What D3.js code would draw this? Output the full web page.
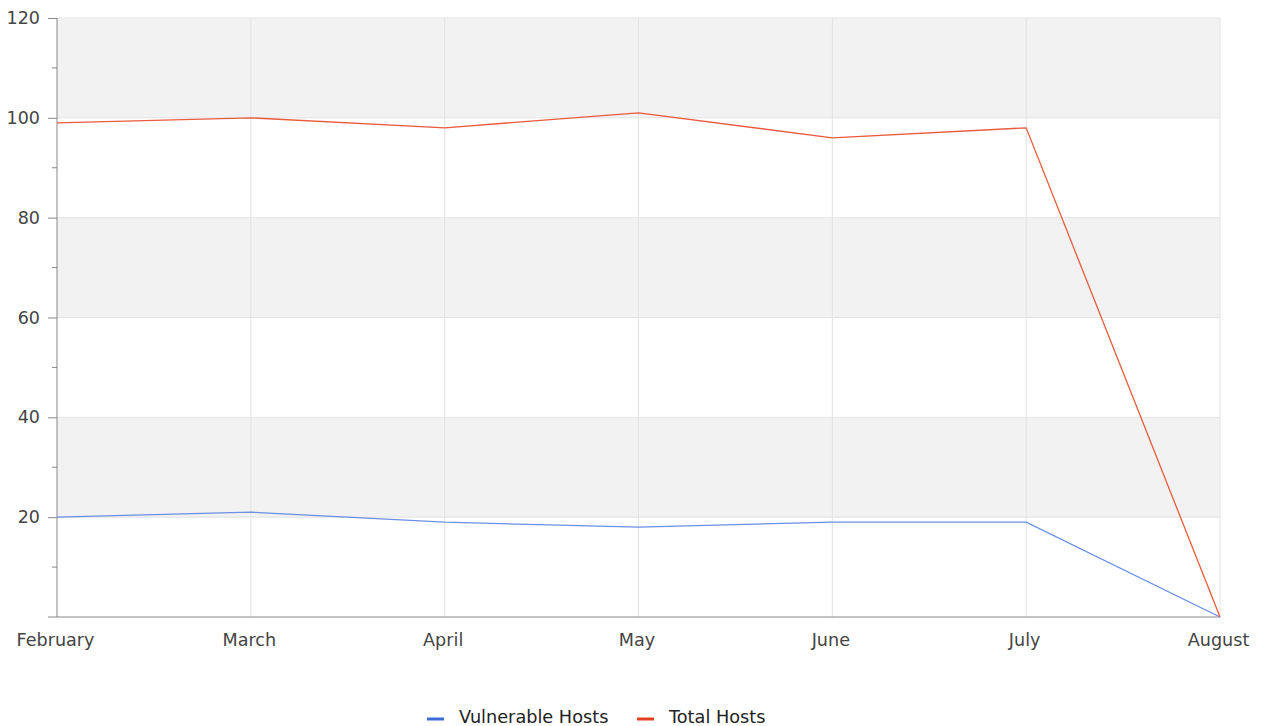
<!DOCTYPE html>
<html>
<head>
<meta charset="utf-8">
<script src="https://cdn.jsdelivr.net/npm/d3@7"></script>
<style>
  body { margin: 0; background: #fff; }
  text { font-family: "DejaVu Sans", sans-serif; }
</style>
</head>
<body>
<div id="chart"></div>
<script>
// chart data
const months = ["February", "March", "April", "May", "June", "July", "August"];
const vulnerableHosts = [20, 21, 19, 18, 19, 19, 0];
const totalHosts = [99, 100, 98, 101, 96, 98, 0];
const yTicks = [20, 40, 60, 80, 100, 120];
const seriesNames = ["Vulnerable Hosts", "Total Hosts"];

const W = 1261, H = 726;
const margin = { top: 18, right: 41, bottom: 109, left: 57 };
const width = W - margin.left - margin.right;
const height = H - margin.top - margin.bottom;

const svg = d3.select("#chart").append("svg")
    .attr("width", W)
    .attr("height", H);

const g = svg.append("g")
    .attr("transform", `translate(${margin.left},${margin.top})`);

const x = d3.scalePoint().domain(months).range([0, width]);
const y = d3.scaleLinear().domain([0, 120]).range([height, 0]);

// alternating bands
const bands = d3.range(0, 120, 20);
g.selectAll("rect.band")
    .data(bands)
    .enter().append("rect")
    .attr("x", 0)
    .attr("y", d => y(d + 20))
    .attr("width", width)
    .attr("height", d => y(d) - y(d + 20))
    .attr("fill", d => (d / 20) % 2 === 1 ? "#f2f2f2" : "#ffffff");

// grid lines
g.selectAll("line.hgrid")
    .data(yTicks)
    .enter().append("line")
    .attr("x1", 0).attr("x2", width)
    .attr("y1", d => y(d)).attr("y2", d => y(d))
    .attr("stroke", "#e3e3e3");

g.selectAll("line.vgrid")
    .data(months.slice(1))
    .enter().append("line")
    .attr("x1", d => x(d)).attr("x2", d => x(d))
    .attr("y1", 0).attr("y2", height)
    .attr("stroke", "#e3e3e3");

// y axis (major + minor ticks)
const yAxis = g.append("g")
    .call(d3.axisLeft(y).tickValues(yTicks).tickSize(9).tickPadding(8));
yAxis.select(".domain").attr("stroke", "#888").attr("d", `M0,0V${height}`);
yAxis.selectAll(".tick line").attr("stroke", "#888");
yAxis.selectAll("text")
    .attr("fill", "#444")
    .style("font-size", "17.5px")
    .attr("dy", "0.32em");

g.append("g")
    .selectAll("line")
    .data([10, 30, 50, 70, 90, 110])
    .enter().append("line")
    .attr("x1", -5).attr("x2", 0)
    .attr("y1", d => y(d)).attr("y2", d => y(d))
    .attr("stroke", "#888");

// x axis
const xAxis = g.append("g")
    .attr("transform", `translate(0,${height})`)
    .call(d3.axisBottom(x).tickSize(0).tickPadding(17));
xAxis.select(".domain").attr("stroke", "#888").attr("d", `M-9,0H${width}`);
xAxis.selectAll("text")
    .attr("fill", "#444")
    .attr("dx", -2)
    .style("font-size", "17.6px");

// lines
const line = d3.line()
    .x((d, i) => x(months[i]))
    .y(d => y(d));

g.append("path")
    .datum(vulnerableHosts)
    .attr("fill", "none")
    .attr("stroke", "#6a8fe3")
    .attr("stroke-width", 1.3)
    .attr("d", line);

g.append("path")
    .datum(totalHosts)
    .attr("fill", "none")
    .attr("stroke", "#ea5a3c")
    .attr("stroke-width", 1.3)
    .attr("d", line);

// legend
const legendColors = ["#3a6bd6", "#e0401f"];
const legend = svg.append("g").attr("transform", "translate(427,717)");
const offsets = [0, 210];
seriesNames.forEach((name, i) => {
    const lg = legend.append("g").attr("transform", `translate(${offsets[i]},0)`);
    lg.append("line")
        .attr("x1", 0).attr("x2", 17)
        .attr("y1", 2).attr("y2", 2)
        .attr("stroke", legendColors[i])
        .attr("stroke-width", 3);
    lg.append("text")
        .attr("x", 32)
        .attr("y", 0)
        .attr("dy", "0.35em")
        .attr("fill", "#222")
        .style("font-size", "17.7px")
        .text(name);
});
</script>
</body>
</html>
